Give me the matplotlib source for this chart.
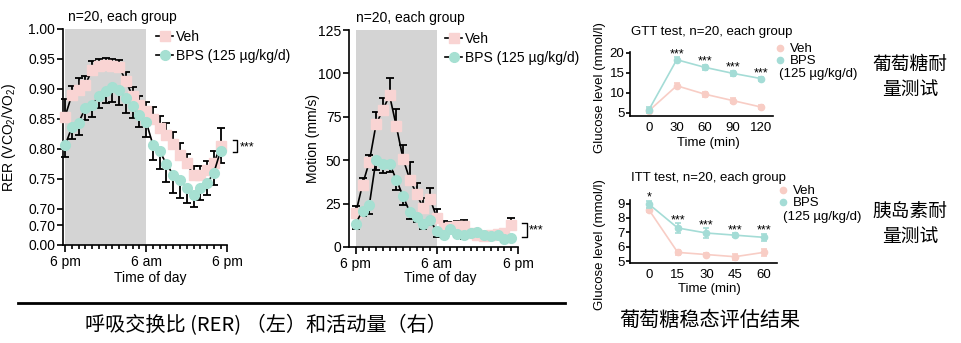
import numpy as np
import matplotlib
matplotlib.use("Agg")
import matplotlib.pyplot as plt
from matplotlib.lines import Line2D

plt.rcParams["font.family"] = ["Liberation Sans", "DejaVu Sans"]
plt.rcParams["mathtext.fontset"] = "custom"
plt.rcParams["mathtext.rm"] = "Liberation Sans"
plt.rcParams["font.size"] = 10
plt.rcParams["axes.linewidth"] = 1.2

# Colours
VEH = "#f9d4d3"
BPS = "#a6e0d2"
VEH_G = "#f8cdc5"
BPS_G = "#a4dcd6"
SHADE = "#d4d4d4"
CJK = ["Noto Sans CJK SC", "DejaVu Sans"]

# ---- data: 24 hourly points from 6 pm ----
hours = np.arange(24)
rer_veh = [0.854, 0.890, 0.899, 0.907, 0.932, 0.938, 0.940, 0.938, 0.937, 0.913, 0.888, 0.874,
           0.863, 0.850, 0.835, 0.823, 0.809, 0.790, 0.776, 0.757, 0.757, 0.765, 0.776, 0.805]
rer_veh_err = [0.030, 0.015, 0.020, 0.015, 0.015, 0.012, 0.012, 0.012, 0.012, 0.015, 0.015, 0.015,
               0.015, 0.020, 0.020, 0.020, 0.020, 0.020, 0.015, 0.015, 0.015, 0.015, 0.020, 0.030]
rer_bps = [0.806, 0.836, 0.844, 0.868, 0.874, 0.888, 0.896, 0.904, 0.898, 0.885, 0.871, 0.857,
           0.845, 0.807, 0.796, 0.775, 0.757, 0.749, 0.735, 0.723, 0.735, 0.743, 0.760, 0.797]
rer_bps_err = [0.020, 0.020, 0.020, 0.020, 0.020, 0.020, 0.020, 0.025, 0.025, 0.025, 0.020, 0.020,
               0.025, 0.025, 0.030, 0.030, 0.030, 0.030, 0.025, 0.020, 0.020, 0.020, 0.020, 0.020]

mot_veh = [19.6, 36.0, 49.0, 70.6, 79.0, 87.3, 69.6, 50.8, 38.8, 30.6, 22.3, 27.7,
           16.7, 11.0, 11.3, 12.0, 12.3, 8.0, 7.0, 6.5, 7.0, 7.5, 8.0, 12.9]
mot_veh_err = [4, 4, 4, 7, 7, 10, 10, 8, 10, 6, 6, 6, 5, 4, 3, 3, 3, 2, 2, 2, 2, 2, 2, 4]
mot_bps = [13.5, 21.0, 24.0, 50.4, 47.9, 48.0, 38.8, 29.2, 20.0, 17.3, 13.5, 15.4,
           9.0, 7.1, 10.4, 7.7, 6.7, 8.0, 8.7, 7.1, 6.5, 7.1, 4.6, 5.2]
mot_bps_err = [3, 3, 5, 6, 5, 5, 6, 5, 4, 3, 3, 3, 3, 2, 2, 2, 2, 2, 2, 2, 2, 2, 2, 2]

day_ticks = [0, 12, 24]
day_labels = ["6 pm", "6 am", "6 pm"]

gtt_t = [0, 30, 60, 90, 120]
gtt_veh = [5.5, 11.8, 9.7, 8.1, 6.5]
gtt_veh_err = [0.5, 0.6, 0.6, 0.6, 0.5]
gtt_bps = [5.7, 18.3, 16.4, 14.9, 13.6]
gtt_bps_err = [0.8, 0.6, 0.6, 0.6, 0.5]
gtt_stars = ["", "***", "***", "***", "***"]

itt_t = [0, 15, 30, 45, 60]
itt_veh = [8.55, 5.6, 5.45, 5.3, 5.6]
itt_veh_err = [0.12, 0.15, 0.12, 0.2, 0.25]
itt_bps = [8.95, 7.3, 6.95, 6.8, 6.65]
itt_bps_err = [0.25, 0.35, 0.35, 0.12, 0.25]
itt_stars = ["*", "***", "***", "***", "***"]

fig = plt.figure(figsize=(9.61, 3.43), dpi=100)
W, H = 961, 343


def px_axes(x0, y_top, x1, y_bot):
    return fig.add_axes([x0 / W, 1 - y_bot / H, (x1 - x0) / W, (y_bot - y_top) / H])


def day_panel(ax, veh, veh_err, bps, bps_err):
    ax.axvspan(0, 12, color=SHADE, lw=0, zorder=0)
    z = np.zeros(len(hours))
    ax.errorbar(hours, veh, yerr=[z, veh_err], fmt="none", ecolor="black",
                elinewidth=1.3, capsize=3, capthick=1.3, zorder=2, clip_on=False)
    ax.errorbar(hours, bps, yerr=[bps_err, z], fmt="none", ecolor="black",
                elinewidth=1.3, capsize=3, capthick=1.3, zorder=2, clip_on=False)
    ax.plot(hours, veh, "-", color="black", lw=1.2, marker="s", ms=6.8,
            mfc=VEH, mec=VEH, zorder=3, clip_on=False)
    ax.plot(hours, bps, "-", color="black", lw=1.2, marker="o", ms=7,
            mfc=BPS, mec=BPS, zorder=4, clip_on=False)
    for s in ["top", "right"]:
        ax.spines[s].set_visible(False)
    ax.set_xticks(day_ticks, day_labels)
    ax.set_xticks(np.arange(25), minor=True)
    ax.tick_params(axis="x", which="major", length=5, width=1.2, pad=2.5)
    ax.tick_params(axis="x", which="minor", length=3, width=1.2)
    ax.tick_params(axis="y", length=4, width=1.2, pad=1.5)
    ax.set_xlabel("Time of day")
    handles = [Line2D([], [], color="black", lw=1.2, marker="s", ms=6.8, mfc=VEH, mec=VEH),
               Line2D([], [], color="black", lw=1.2, marker="o", ms=7, mfc=BPS, mec=BPS)]
    return handles


# ---- RER panel ----
ax1 = px_axes(62.7, 29, 227.3, 245)
h = day_panel(ax1, rer_veh, rer_veh_err, rer_bps, rer_bps_err)
ax1.set_xlim(-0.35, 24)
ax1.set_ylim(0.64, 1.0)
ax1.set_yticks([0.64, 0.6733, 0.70, 0.75, 0.80, 0.85, 0.90, 0.95, 1.00],
               ["0.00", "0.70", "0.70", "0.75", "0.80", "0.85", "0.90", "0.95", "1.00"])
ax1.set_ylabel("RER (VCO$_2$/VO$_2$)")
ax1.yaxis.set_label_coords(-0.27, 0.5)
ax1.xaxis.set_label_coords(0.53, -0.12)
ax1.plot([24.85, 25.5, 25.5, 24.85], [0.815, 0.815, 0.795, 0.795], color="black",
         lw=1, clip_on=False)
ax1.text(25.8, 0.803, "***", fontsize=9, va="center", ha="left")
fig.legend(h, ["Veh", "BPS (125 µg/kg/d)"], loc="upper left",
           bbox_to_anchor=(156 / W, 1 - 30 / H), frameon=False, borderpad=0,
           borderaxespad=0, handlelength=1.25, handletextpad=0.2, labelspacing=0.35)
fig.text(68 / W, 1 - 17 / H, "n=20, each group", va="center", ha="left")

# ---- Motion panel ----
ax2 = px_axes(349, 30, 518, 247)
h = day_panel(ax2, mot_veh, mot_veh_err, mot_bps, mot_bps_err)
ax2.set_xlim(-1, 24)
ax2.set_ylim(0, 125)
ax2.set_yticks([0, 25, 50, 75, 100, 125])
ax2.set_ylabel("Motion (mm/s)")
ax2.yaxis.set_label_coords(-0.17, 0.5)
ax2.xaxis.set_label_coords(0.54, -0.11)
ax2.plot([24.6, 25.3, 25.3, 24.6], [13.8, 13.8, 5.8, 5.8], color="black",
         lw=1, clip_on=False)
ax2.text(25.6, 9.5, "***", fontsize=9, va="center", ha="left")
fig.legend(h, ["Veh", "BPS (125 µg/kg/d)"], loc="upper left",
           bbox_to_anchor=(445 / W, 1 - 32 / H), frameon=False, borderpad=0,
           borderaxespad=0, handlelength=1.25, handletextpad=0.2, labelspacing=0.35)
fig.text(356 / W, 1 - 18 / H, "n=20, each group", va="center", ha="left")


# ---- glucose panels ----
def glucose_panel(ax, t, veh, veh_err, bps, bps_err, stars):
    ax.errorbar(t, veh, yerr=veh_err, color=VEH_G, lw=1.2, marker="o", ms=4.5,
                elinewidth=1.2, capsize=2, capthick=1.2, zorder=2, clip_on=False)
    ax.errorbar(t, bps, yerr=bps_err, color=BPS_G, lw=1.2, marker="o", ms=4.5,
                elinewidth=1.2, capsize=2, capthick=1.2, zorder=3, clip_on=False)
    for x, y, e, s in zip(t, bps, bps_err, stars):
        ax.text(x, y + e, s, fontsize=9, ha="center", va="baseline")
    for s in ["top", "right"]:
        ax.spines[s].set_visible(False)
    ax.set_xticks(t)
    ax.tick_params(axis="x", length=0, pad=4, labelsize=9.5)
    ax.tick_params(axis="y", length=3, width=1.2, pad=1, labelsize=9.5)
    ax.set_xlabel("Time (min)", fontsize=9.5)
    ax.set_ylabel("Glucose level (mmol/l)", fontsize=9.5)
    return [Line2D([], [], lw=0, marker="o", ms=4.5, color=VEH_G),
            Line2D([], [], lw=0, marker="o", ms=4.5, color=BPS_G)]


ax3 = px_axes(630, 51.7, 773, 116)
h = glucose_panel(ax3, gtt_t, gtt_veh, gtt_veh_err, gtt_bps, gtt_bps_err, gtt_stars)
ax3.set_xlim(-20, 133)
ax3.set_ylim(4.25, 20.3)
ax3.set_yticks([5, 10, 15, 20])
ax3.yaxis.set_label_coords(-0.168, 0.45)
ax3.xaxis.set_label_coords(0.545, -0.33)
fig.text(631 / W, 1 - 32 / H, "GTT test, n=20, each group", va="center", ha="left",
         fontsize=9.5)
fig.legend(h, ["Veh", "BPS"], loc="upper left", bbox_to_anchor=(777 / W, 1 - 43 / H),
           frameon=False, borderpad=0, borderaxespad=0, handlelength=0.5,
           handletextpad=0.45, labelspacing=0.0, fontsize=9.5)
fig.text(779 / W, 1 - 74 / H, "(125 µg/kg/d)", va="center", ha="left", fontsize=9.5)

ax4 = px_axes(630, 200, 777, 263.3)
h = glucose_panel(ax4, itt_t, itt_veh, itt_veh_err, itt_bps, itt_bps_err, itt_stars)
ax4.set_xlim(-10, 67)
ax4.set_ylim(4.84, 9.25)
ax4.set_yticks([5, 6, 7, 8, 9])
ax4.yaxis.set_label_coords(-0.16, 0.3)
ax4.xaxis.set_label_coords(0.537, -0.31)
fig.text(631 / W, 1 - 178 / H, "ITT test, n=20, each group", va="center", ha="left",
         fontsize=9.5)
fig.legend(h, ["Veh", "BPS"], loc="upper left", bbox_to_anchor=(780 / W, 1 - 185 / H),
           frameon=False, borderpad=0, borderaxespad=0, handlelength=0.5,
           handletextpad=0.45, labelspacing=0.0, fontsize=9.5)
fig.text(783 / W, 1 - 217 / H, "(125 µg/kg/d)", va="center", ha="left", fontsize=9.5)

# ---- Chinese captions ----
fig.add_artist(Line2D([18 / W, 565 / W], [1 - 303 / H] * 2, color="black", lw=2))
fig.text(266 / W, 1 - 326 / H, "呼吸交换比 (RER) （左）和活动量（右）", family=CJK,
         fontsize=14.5, fontweight="medium", ha="center", va="center")
fig.text(710 / W, 1 - 320 / H, "葡萄糖稳态评估结果", family=CJK,
         fontsize=14.5, fontweight="medium", ha="center", va="center")
fig.text(910 / W, 1 - 77 / H, "葡萄糖耐\n量测试", family=CJK, fontsize=13.5,
         fontweight="medium", ha="center", va="center", linespacing=1.25)
fig.text(910 / W, 1 - 224 / H, "胰岛素耐\n量测试", family=CJK, fontsize=13.5,
         fontweight="medium", ha="center", va="center", linespacing=1.25)

fig.savefig("out.png", dpi=100)
